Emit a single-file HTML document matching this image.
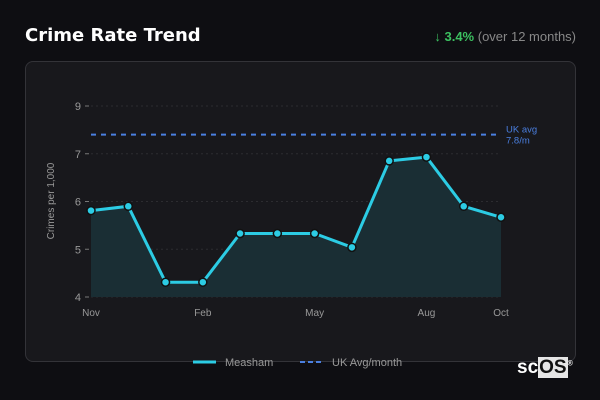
<!DOCTYPE html>
<html><head><meta charset="utf-8"><style>
body{margin:0;width:600px;height:400px;background:#0e0e12;font-family:"Liberation Sans",sans-serif;overflow:hidden;position:relative}
.t{position:absolute;left:25px;top:25px;color:#fff;font-size:18px;font-weight:bold;font-family:"DejaVu Sans",sans-serif}
.chg{position:absolute;right:24px;top:29px;font-size:13px;color:#888}
.chg b{color:#3cc060}
.card{position:absolute;left:25px;top:61px;width:549px;height:299px;border:1px solid #333338;border-radius:8px;background:#18181c}
svg{position:absolute;left:0;top:0}
.logo{position:absolute;left:517px;top:357px;color:#fff;font-size:19px;font-weight:bold}
.logo span{background:#e6e6e6;color:#111;padding:0 1px}
</style></head><body>
<div class="t">Crime Rate Trend</div>
<div class="chg"><b>↓ 3.4%</b> (over 12 months)</div>
<div class="card"></div>
<svg id="c" width="600" height="400"></svg>
<div class="logo">sc<span>OS</span><sup style="font-size:7px">®</sup></div>
<script>
const months=["Nov","Dec","Jan","Feb","Mar","Apr","May","Jun","Jul","Aug","Sep","Oct"];
const values=[5.81,5.90,4.31,4.31,5.33,5.33,5.33,5.04,6.85,6.93,5.90,5.67];
const xLabels=["Nov","Feb","May","Aug","Oct"];
const yTicks=[4,5,6,7,9];
const ukAvg=[7.8];
const NS="http://www.w3.org/2000/svg";
const svg=document.getElementById('c');
const x0=91,x1=501,yBot=297,yTop=106;
function xs(i){return x0+(x1-x0)*i/(months.length-1);}
function ys(v){const n=yTicks.length-1,step=(yBot-yTop)/n;
 for(let k=0;k<n;k++){if(v<=yTicks[k+1]||k==n-1){return yBot-step*(k+(v-yTicks[k])/(yTicks[k+1]-yTicks[k]));}}}
function mk(t,a,txt){const e=document.createElementNS(NS,t);for(const k in a)e.setAttribute(k,a[k]);if(txt!=null)e.textContent=txt;svg.appendChild(e);return e;}
yTicks.forEach(v=>{const y=ys(v);
 const g=mk('line',{x1:x0,x2:x1,y1:y,y2:y,stroke:'#2c2c30','stroke-dasharray':'2,3'});
 
 const tk=mk('line',{x1:85,x2:89,y1:y,y2:y,stroke:'#777'});
 
 const l=mk('text',{x:81,y:y+4,fill:'#999','font-size':11,'text-anchor':'end'},v);
 });
xLabels.forEach(m=>{const i=months.indexOf(m);
 const l=mk('text',{x:xs(i),y:316,fill:'#999','font-size':10,'text-anchor':'middle'},m);
 });
const yt=mk('text',{x:0,y:0,fill:'#999','font-size':10,'text-anchor':'middle',transform:'translate(54,201) rotate(-90)'},'Crimes per 1,000');

let pts=values.map((v,i)=>xs(i)+','+ys(v)).join(' ');
const area=mk('polygon',{points:xs(0)+','+yBot+' '+pts+' '+xs(values.length-1)+','+yBot,fill:'#1a2e34'});

const ua=mk('line',{x1:x0,x2:x1,y1:ys(ukAvg[0]),y2:ys(ukAvg[0]),stroke:'#4a7fe0','stroke-width':2,'stroke-dasharray':'5,5'});

const ul=mk('text',{x:506,y:ys(ukAvg[0])-2,fill:'#4a7fe0','font-size':9.5},'UK avg');

const ul2=mk('text',{x:506,y:ys(ukAvg[0])+9,fill:'#4a7fe0','font-size':9.5},ukAvg[0]+'/m');

const ln=mk('polyline',{points:pts,fill:'none',stroke:'#2ccce4','stroke-width':3,'stroke-linejoin':'round'});

values.forEach((v,i)=>{const c=mk('circle',{cx:xs(i),cy:ys(v),r:4,fill:'#2ccce4',stroke:'#111','stroke-width':1.5});
 });
const lg1=mk('line',{x1:193,x2:216,y1:362,y2:362,stroke:'#2ccce4','stroke-width':3});

const lt1=mk('text',{x:225,y:366,fill:'#999','font-size':11},'Measham');

const lg2=mk('line',{x1:300,x2:324,y1:362,y2:362,stroke:'#4a7fe0','stroke-width':2,'stroke-dasharray':'5,3'});

const lt2=mk('text',{x:332,y:366,fill:'#999','font-size':11},'UK Avg/month');

</script>
</body></html>
